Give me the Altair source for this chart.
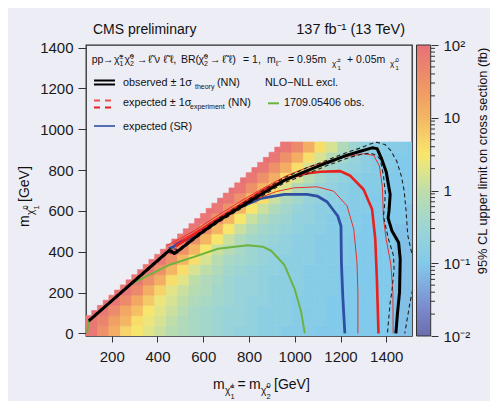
import altair as alt
import pandas as pd

FONT = "Liberation Sans"
BG = "#EDEDF6"

# ---------------- heat map: 95% CL upper limit, stored as 10*log10(limit / fb)
# rows of 50 GeV in m(LSP) (centres 12.5, 62.5, ...); row 0 starts at dm=100, others at dm=50
HEAT_ROWS = [
    [19, 15, 11, 7, 5, 3, 1, -1, -2, -3, -4, -5, -6, -7, -7, -8, -8, -9, -9, -9, -10, -10, -10, -10, -10, -10, -10, -11, -11],
    [19, 17, 13, 10, 6, 4, 2, 0, -2, -3, -4, -5, -6, -6, -7, -8, -8, -8, -9, -9, -9, -10, -10, -10, -10, -10, -10, -11, -11],
    [19, 16, 12, 9, 5, 3, 1, -1, -3, -4, -5, -6, -6, -7, -8, -8, -8, -9, -9, -9, -10, -10, -10, -10, -10, -10, -11, -11],
    [19, 16, 12, 8, 4, 2, 0, -2, -3, -4, -5, -6, -7, -7, -8, -8, -9, -9, -9, -10, -10, -10, -10, -10, -10, -11, -11],
    [19, 16, 11, 7, 3, 1, -1, -2, -4, -5, -6, -6, -7, -8, -8, -8, -9, -9, -9, -10, -10, -10, -10, -10, -11, -11],
    [19, 15, 11, 6, 3, 0, -2, -3, -5, -6, -6, -7, -8, -8, -8, -9, -9, -9, -10, -10, -10, -10, -10, -11, -11],
    [19, 15, 10, 6, 2, 0, -2, -4, -5, -6, -7, -7, -8, -8, -9, -9, -9, -10, -10, -10, -10, -10, -11, -11],
    [19, 15, 10, 6, 2, -1, -3, -4, -5, -6, -7, -8, -8, -8, -9, -9, -9, -10, -10, -10, -10, -11, -11],
    [19, 15, 10, 5, 1, -1, -3, -5, -6, -7, -7, -8, -8, -9, -9, -9, -10, -10, -10, -10, -11, -11],
    [19, 15, 10, 5, 1, -2, -4, -5, -6, -7, -8, -8, -9, -9, -9, -10, -10, -10, -10, -11, -11],
    [19, 15, 10, 5, 1, -2, -4, -5, -6, -7, -8, -8, -9, -9, -9, -10, -10, -10, -11, -11],
    [19, 15, 10, 5, 1, -2, -4, -5, -7, -7, -8, -9, -9, -9, -10, -10, -10, -10, -11],
    [19, 15, 10, 5, 1, -2, -4, -6, -7, -8, -8, -9, -9, -9, -10, -10, -10, -11],
    [19, 15, 10, 6, 1, -2, -4, -6, -7, -8, -8, -9, -9, -10, -10, -10, -10],
    [19, 15, 10, 6, 2, -2, -4, -6, -7, -8, -9, -9, -9, -10, -10, -10],
    [19, 15, 11, 6, 2, -1, -4, -6, -7, -8, -9, -9, -10, -10, -10],
    [19, 15, 11, 6, 2, -1, -4, -6, -7, -8, -9, -9, -10, -10],
    [19, 15, 11, 6, 2, -1, -4, -6, -8, -9, -9, -10, -10],
    [19, 16, 11, 6, 2, -2, -5, -7, -8, -9, -9, -10],
]

# colour bar (log10 of limit) and its colours
CB_LG = [-2.0, -1.6, -1.3, -1.0, -0.6, -0.3, 0.0, 0.25, 0.5, 0.7, 1.0, 1.3, 1.65, 2.0]
CB_COL = ["#6B6DAD", "#7B8CCF", "#80ACDF", "#82CAEB", "#97D3D9", "#A9D9C4", "#BFDDA8",
          "#DDE48E", "#F8E66C", "#F7D36A", "#F4B663", "#F19F63", "#EC876C", "#E87176"]
CB_MAJOR = [0.01, 0.1, 1, 10, 100]
CB_MINOR = [m * d for d in (0.01, 0.1, 1, 10) for m in range(2, 10)]

# ---------------- contours (m_chi1+-, m_chi1_0) in GeV
OBS_X = [100, 283, 450, 460, 472, 489, 588, 661, 807, 952, 1050, 1141, 1229, 1287, 1338, 1360, 1378, 1400, 1417, 1412, 1408, 1425, 1454, 1461, 1458, 1449, 1442]
OBS_Y = [62, 241, 405, 404, 392, 403, 490, 548, 650, 748, 795, 836, 873, 892, 909, 905, 860, 790, 680, 600, 565, 502, 445, 364, 201, 100, 0]
OBS_UP_X = [100, 283, 455, 490, 588, 661, 807, 952, 1050, 1141, 1229, 1287, 1330, 1359, 1395, 1420, 1446, 1466, 1478, 1486, 1494, 1506, 1530, 1502, 1490, 1481]
OBS_UP_Y = [66, 247, 416, 411, 498, 558, 662, 762, 810, 848, 887, 908, 928, 936, 925, 895, 843, 770, 700, 608, 480, 420, 300, 140, 60, 0]
OBS_DN_X = [100, 283, 450, 472, 489, 588, 661, 807, 952, 1050, 1141, 1229, 1287, 1330, 1360, 1374, 1388, 1396, 1392, 1388, 1398, 1410, 1432, 1434, 1424, 1417, 1405]
OBS_DN_Y = [58, 236, 398, 386, 397, 483, 540, 640, 736, 780, 822, 858, 876, 884, 870, 852, 770, 689, 620, 575, 520, 461, 380, 315, 200, 152, 0]
EXP_X = [480, 560, 660, 760, 860, 977, 1050, 1112, 1199, 1243, 1301, 1338, 1352, 1359, 1366]
EXP_Y = [428, 485, 558, 628, 700, 763, 783, 792, 795, 772, 705, 608, 461, 266, 0]
EXP_DN_X = [470, 560, 660, 760, 836, 920, 996, 1098, 1170, 1229, 1258, 1272, 1276, 1276]
EXP_DN_Y = [438, 492, 563, 630, 660, 695, 713, 718, 697, 624, 510, 348, 200, 0]
EXP_UP_X = [440, 560, 660, 760, 860, 960, 1060, 1150, 1228, 1300, 1345, 1370, 1383, 1388, 1400, 1420, 1429, 1430]
EXP_UP_Y = [430, 502, 575, 645, 710, 770, 815, 845, 866, 880, 872, 820, 720, 560, 460, 340, 200, 0]
SR_X = [450, 470, 505, 577, 722, 853, 955, 1054, 1098, 1141, 1188, 1202, 1204, 1210, 1219]
SR_Y = [415, 425, 450, 480, 599, 662, 681, 681, 673, 645, 575, 526, 348, 180, 0]
OLD_X = [92, 96, 100, 283, 373, 450, 560, 664, 795, 860, 897, 955, 999, 1028, 1044]
OLD_Y = [0, 30, 62, 242, 292, 335, 375, 415, 432, 425, 405, 335, 220, 105, 0]

X_TICKS = [200, 400, 600, 800, 1000, 1200, 1400]
Y_TICKS = [0, 200, 400, 600, 800, 1000, 1200, 1400]
X_DOM = [87.5, 1512.5]
Y_DOM = [-12.5, 1412.5]

W, H = 326, 291

# ---------------- build tables
cells = []
for k, vals in enumerate(HEAT_ROWS):
    yc = 12.5 + 50 * k
    j0 = 0 if k == 0 else k - 1
    for i, v in enumerate(vals):
        xc = 112.5 + 50 * (j0 + i)
        cells.append({"x": xc - 25, "xe": xc + 25, "y": yc - 25, "ye": yc + 25, "lg": v / 10})
    if k >= 2:
        # 25 GeV corner cell on the diagonal (finer staircase)
        cells.append({"x": yc, "xe": yc + 25, "y": yc - 25, "ye": yc, "lg": (vals[0] + 1) / 10})
heat_df = pd.DataFrame(cells)


def curve(xs, ys):
    return pd.DataFrame({"x": xs, "y": ys, "i": list(range(len(xs)))})


XS = alt.Scale(domain=X_DOM, nice=False, zero=False)
YS = alt.Scale(domain=Y_DOM, nice=False, zero=False)
XA = alt.Axis(values=X_TICKS, title=None, tickSize=6, labelPadding=7, grid=False, domain=False, format="d")
YA = alt.Axis(values=Y_TICKS, title=None, tickSize=8, labelPadding=5, grid=False, domain=False, format="d")
CSCALE = alt.Scale(domain=CB_LG, range=CB_COL, clamp=True, interpolate="rgb")

heat = alt.Chart(heat_df).mark_rect(clip=True, strokeWidth=0.6).encode(
    x=alt.X("x:Q", scale=XS, axis=XA),
    x2="xe:Q",
    y=alt.Y("y:Q", scale=YS, axis=YA),
    y2="ye:Q",
    color=alt.Color("lg:Q", scale=CSCALE, legend=None),
    stroke=alt.Stroke("lg:Q", scale=CSCALE, legend=None),
)


def line(xs, ys, color, width, dash=None):
    kw = dict(color=color, strokeWidth=width, clip=True, strokeJoin="round", strokeCap="butt")
    if dash:
        kw["strokeDash"] = dash
    return alt.Chart(curve(xs, ys)).mark_line(**kw).encode(
        x=alt.X("x:Q", scale=XS, axis=XA),
        y=alt.Y("y:Q", scale=YS, axis=YA),
        order="i:Q",
    )


main = alt.layer(
    heat,
    line(OLD_X, OLD_Y, "#6DB33F", 2),
    line(SR_X, SR_Y, "#2E4FA3", 2.8),
    line(EXP_DN_X, EXP_DN_Y, "#E8302A", 1),
    line(EXP_UP_X, EXP_UP_Y, "#E8302A", 1),
    line(EXP_X, EXP_Y, "#E8201E", 2.6),
    line(OBS_UP_X, OBS_UP_Y, "#222222", 1.1, [4, 3]),
    line(OBS_DN_X, OBS_DN_Y, "#222222", 1.1, [4, 3]),
    line(OBS_X, OBS_Y, "#000000", 3),
)

ONE = pd.DataFrame({"k": [0]})

stops = [alt.GradientStop(offset=(v + 2) / 4, color=c) for v, c in zip(CB_LG, CB_COL)]
cbar = alt.Chart(ONE).mark_rect(
    fill=alt.LinearGradient(gradient="linear", stops=stops, x1=0, x2=0, y1=1, y2=0),
    stroke="#333333", strokeWidth=1,
).encode(x=alt.value(330.5), x2=alt.value(344.7), y=alt.value(0), y2=alt.value(H))

cb_df = pd.DataFrame({"v": CB_MINOR})
cbar_ticks = alt.Chart(cb_df).mark_rule(color="#333333", strokeWidth=1).encode(
    y=alt.Y("v:Q", scale=alt.Scale(type="log", domain=[0.01, 100], nice=False),
            axis=alt.Axis(orient="right", offset=19, values=CB_MAJOR, tickSize=7, labelPadding=5,
                          domain=False, grid=False, title=None,
                          labelExpr="datum.value > 50 ? '10²' : datum.value > 5 ? '10' : datum.value > 0.5 ? '1' : datum.value > 0.05 ? '10⁻¹' : '10⁻²'")),
    x=alt.value(344.7), x2=alt.value(349),
)


def txt(s, x, y, size=10.8, align="left", angle=0, color="#111111", baseline="alphabetic"):
    return alt.Chart(ONE).mark_text(text=s, align=align, baseline=baseline, fontSize=size,
                                    angle=angle, color=color, font=FONT).encode(
        x=alt.value(x), y=alt.value(y))


def seg(x1, x2, y, color, width, dash=None):
    kw = dict(color=color, strokeWidth=width)
    if dash:
        kw["strokeDash"] = dash
    return alt.Chart(ONE).mark_rule(**kw).encode(x=alt.value(x1), x2=alt.value(x2), y=alt.value(y))


# (text, x, baseline shift, size) for the process line of the legend
L1Y = 18
LINE1 = [
    ("pp", 5.7, 0, 10.5), ("→", 17, 0, 10.5),
    ("χ̃", 28, 0, 10.5), ("±", 33.5, -4, 7), ("1", 33.5, 3, 7),
    ("χ̃", 38.5, 0, 10.5), ("0", 44, -4, 7), ("2", 44, 3, 7),
    ("→", 51, 0, 10.5),
    ("ℓ̃ ν ℓ̃ ℓ,", 62, 0, 11),
    ("BR(", 95, 0, 10.5), ("χ̃", 112.5, 0, 10.5), ("0", 118, -4, 7), ("2", 118, 3, 7),
    ("→", 124, 0, 10.5),
    ("ℓ̃ ℓ)", 136, 0, 11), ("= 1,", 157, 0, 10.5),
    ("m", 181, 0, 10.5), ("ℓ̃", 190, 3, 7.5),
    ("= 0.95m", 202, 0, 10.5), ("χ̃", 246, 3, 8), ("±", 251.5, -1, 6), ("1", 251.5, 6.5, 6),
    ("+ 0.05m", 261, 0, 10.5), ("χ̃", 304, 3, 8), ("0", 309.5, -1, 6), ("1", 309.5, 6.5, 6),
]

XT_Y = 344
XTITLE = [
    ("m", 127, 0, 14), ("χ̃", 139, 5, 10), ("±", 144.5, -1, 7.5), ("1", 144.5, 10, 7.5),
    ("=", 151.5, 0, 14), ("m", 163, 0, 14), ("χ̃", 175, 5, 10), ("0", 180.5, -1, 7.5),
    ("2", 180.5, 10, 7.5), ("[GeV]", 188, 0, 14),
]
# rotated y title: (text, position along the text (upwards), shift towards right, size)
YT_X = -57.5
YTITLE = [
    ("m", 182, 0, 14), ("χ̃", 170, 5, 10), ("0", 164.5, -1, 7.5), ("1", 164.5, 10, 7.5),
    ("[GeV]", 157, 0, 14),
]

texts = [
    txt("CMS preliminary", 7, -11, 14),
    txt("137 fb⁻¹ (13 TeV)", 319, -11, 14.5, align="right"),
    *[txt(s, x, L1Y + d, z) for s, x, d, z in LINE1],
    seg(8, 29, 35.5, "#000000", 2),
    seg(8, 29, 39.5, "#000000", 2),
    txt("observed ± 1σ", 37, 41),
    txt("theory", 109, 43.5, 7),
    txt("(NN)", 131, 41),
    txt("NLO−NLL excl.", 179, 41),
    seg(8, 27, 55.5, "#F05050", 2.2, [6, 5]),
    seg(8, 27, 62.5, "#E82020", 2.2, [6, 5]),
    txt("expected ± 1σ", 37, 61),
    txt("experiment", 104, 63.5, 7),
    txt("(NN)", 142, 61),
    seg(182, 193, 58.3, "#6DB33F", 2),
    txt("1709.05406 obs.", 198, 61),
    seg(8, 29, 81, "#2E4FA3", 1.6),
    txt("expected (SR)", 37, 85),
    *[txt(s, x, XT_Y + d, z) for s, x, d, z in XTITLE],
    *[txt(s, YT_X + d, p, z, angle=270) for s, p, d, z in YTITLE],
    txt("95% CL upper limit on cross section (fb)", 401, 116, 12.8, align="center", angle=270),
]

chart = alt.layer(main, cbar, cbar_ticks, *texts).resolve_scale(y="independent").properties(
    width=W, height=H,
    background=BG,
    autosize=alt.AutoSizeParams(type="none"),
    padding={"left": 78, "top": 37, "right": 78, "bottom": 65},
).configure_view(stroke="#2B2B2B", strokeWidth=1.3, fill=BG).configure_axis(
    labelFont=FONT, labelFontSize=15, labelColor="#1A1A1A", tickColor="#333333", tickWidth=1,
)

chart.save("out.html", embed_options={"renderer": "svg", "actions": False})
